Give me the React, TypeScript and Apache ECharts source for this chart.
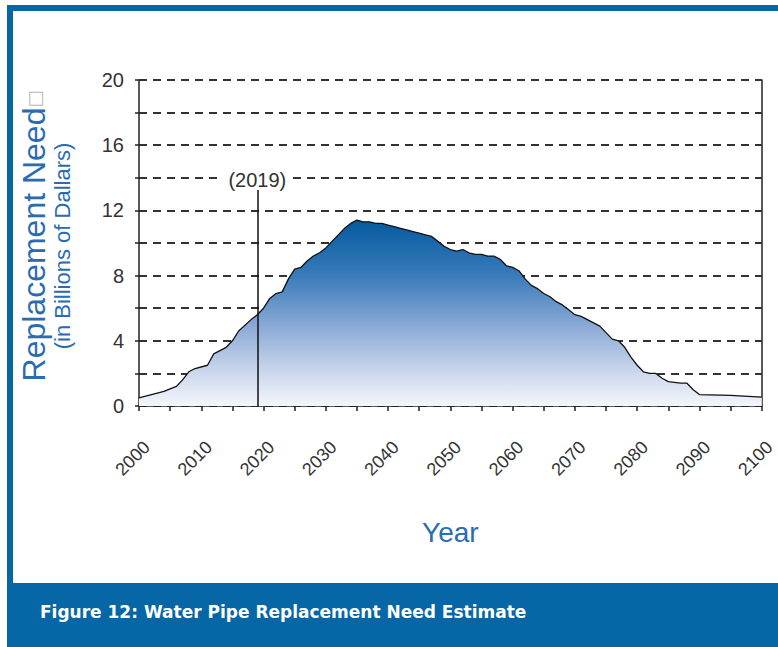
import React, { useEffect, useRef } from "react";
import * as echarts from "echarts";

// Years and replacement need (billions of dollars)
const years = [
  2000, 2002, 2004, 2006, 2007, 2008, 2009, 2011, 2012, 2014, 2015, 2016, 2018, 2019,
  2020, 2021, 2022, 2023, 2024, 2025, 2026, 2027, 2028, 2029, 2030, 2031, 2032, 2033,
  2034, 2035, 2036, 2037, 2038, 2039, 2040, 2041, 2042, 2043, 2044, 2045, 2046, 2047,
  2048, 2049, 2050, 2051, 2052, 2053, 2054, 2055, 2056, 2057, 2058, 2059, 2060, 2061,
  2062, 2063, 2064, 2065, 2066, 2067, 2068, 2069, 2070, 2071, 2072, 2073, 2074, 2075,
  2076, 2077, 2078, 2079, 2080, 2081, 2082, 2083, 2084, 2085, 2086, 2087, 2088, 2089,
  2090, 2095, 2100,
];
const needValues = [
  0.5, 0.7, 0.9, 1.2, 1.6, 2.1, 2.3, 2.5, 3.2, 3.6, 4.0, 4.6, 5.3, 5.6,
  6.0, 6.6, 6.9, 7.0, 7.8, 8.4, 8.5, 8.9, 9.2, 9.4, 9.7, 10.1, 10.5, 10.9,
  11.2, 11.4, 11.3, 11.3, 11.2, 11.2, 11.1, 11.0, 10.9, 10.8, 10.7, 10.6, 10.5, 10.4,
  10.1, 9.8, 9.6, 9.5, 9.6, 9.4, 9.3, 9.3, 9.2, 9.2, 9.0, 8.6, 8.5, 8.3,
  7.8, 7.4, 7.2, 6.9, 6.7, 6.4, 6.2, 5.9, 5.6, 5.5, 5.3, 5.1, 4.9, 4.5,
  4.1, 4.0, 3.6, 3.0, 2.5, 2.1, 2.0, 2.0, 1.7, 1.5, 1.45, 1.4, 1.4, 1.0,
  0.7, 0.65, 0.55,
];

const xLabelYears = [2000, 2010, 2020, 2030, 2040, 2050, 2060, 2070, 2080, 2090, 2100];
const yLabelValues = [0, 4, 8, 12, 16, 20];

const markerYear = 2019;
const markerTop = 13.25;
const markerLabel = "(2019)";

const yTitle = "Replacement Need";
const ySubTitle = "(in Billions of Dallars)";
const xTitle = "Year";
const caption = "Figure 12: Water Pipe Replacement Need Estimate";

const FRAME_BLUE = "#0666a6";
const TITLE_BLUE = "#2b6cb0";

export default function App() {
  const ref = useRef<HTMLDivElement>(null);

  useEffect(() => {
    if (!ref.current) return;
    const chart = echarts.init(ref.current, undefined, { renderer: "svg" });
    const option: any = {
      animation: false,
      backgroundColor: "#ffffff",
      grid: { left: 139, right: 5, top: 80, bottom: 241, containLabel: false },
      xAxis: {
        type: "value",
        min: 2000,
        max: 2100,
        interval: 5,
        name: xTitle,
        nameLocation: "middle",
        nameGap: 126,
        nameTextStyle: {
          color: TITLE_BLUE,
          fontSize: 28,
          fontFamily: "Liberation Sans",
          verticalAlign: "middle",
        },
        axisLine: { show: true, lineStyle: { color: "#222", width: 1.5 } },
        axisTick: { show: true, length: 5, lineStyle: { color: "#222", width: 1.5 } },
        axisLabel: {
          rotate: 45,
          margin: 46,
          align: "center",
          verticalAlign: "middle",
          padding: [0, 18, 0, 0],
          fontSize: 18,
          color: "#333",
          fontFamily: "Liberation Sans",
          showMinLabel: true,
          showMaxLabel: true,
          formatter: (v: number) => (xLabelYears.includes(v) ? String(v) : ""),
        },
        splitLine: { show: false },
      },
      yAxis: [
        {
          type: "value",
          min: 0,
          max: 20,
          interval: 2,
          axisLine: { show: true, lineStyle: { color: "#222", width: 1.5 } },
          axisTick: { show: true, length: 4, lineStyle: { color: "#222", width: 1.5 } },
          axisLabel: {
            margin: 15,
            fontSize: 20,
            color: "#333",
            fontFamily: "Liberation Sans",
            padding: [0, 0, 5, 0],
            formatter: (v: number) => (yLabelValues.includes(v) ? String(v) : ""),
          },
          splitLine: {
            show: true,
            lineStyle: { color: "#333333", width: 2, type: [8, 6] },
          },
        },
        {
          type: "value",
          position: "right",
          min: 0,
          max: 20,
          interval: 2,
          axisLine: { show: true, lineStyle: { color: "#222", width: 1.5 } },
          axisTick: { show: false },
          axisLabel: { show: false },
          splitLine: { show: false },
        },
      ],
      series: [
        {
          type: "line",
          yAxisIndex: 0,
          data: years.map((y, i) => [y, needValues[i]]),
          symbol: "none",
          z: 3,
          lineStyle: { color: "#111", width: 1.3 },
          areaStyle: {
            opacity: 1,
            color: new echarts.graphic.LinearGradient(0, 0, 0, 1, [
              { offset: 0, color: "#045a9e" },
              { offset: 0.3, color: "#3a7bbb" },
              { offset: 0.6, color: "#93afd8" },
              { offset: 0.85, color: "#d3ddef" },
              { offset: 1, color: "#f4f6fb" },
            ]),
          },
          markLine: {
            silent: true,
            symbol: ["none", "none"],
            lineStyle: { color: "#111", width: 1.5, type: "solid" },
            label: {
              show: true,
              position: "end",
              formatter: markerLabel,
              color: "#333",
              fontSize: 20,
              fontFamily: "Liberation Sans",
              backgroundColor: "#ffffff",
              padding: [0, 6],
              lineHeight: 19,
              distance: 1,
            },
            data: [[{ coord: [markerYear, 0] }, { coord: [markerYear, markerTop] }]],
          },
        },
      ],
      graphic: [
        { type: "rect", shape: { x: 7, y: 5, width: 771, height: 6 }, style: { fill: FRAME_BLUE }, silent: true },
        { type: "rect", shape: { x: 7, y: 5, width: 6, height: 580 }, style: { fill: FRAME_BLUE }, silent: true },
        { type: "rect", shape: { x: 7, y: 583, width: 771, height: 64 }, style: { fill: FRAME_BLUE }, silent: true },
        {
          type: "text",
          x: 40,
          y: 612,
          silent: true,
          style: {
            text: caption,
            fill: "#ffffff",
            fontSize: 17,
            fontWeight: "bold",
            fontFamily: "DejaVu Sans",
            textAlign: "left",
            textVerticalAlign: "middle",
          },
        },
        {
          type: "text",
          x: 34,
          y: 236,
          rotation: Math.PI / 2,
          silent: true,
          style: {
            text: "{a|" + yTitle + "}{b|\u25A1}",
            textAlign: "center",
            textVerticalAlign: "middle",
            rich: {
              a: { fontSize: 32, fill: TITLE_BLUE, fontFamily: "Liberation Sans" },
              b: { fontSize: 18, fill: "#b8b8b8", fontFamily: "DejaVu Sans" },
            },
          },
        },
        {
          type: "text",
          x: 62,
          y: 246,
          rotation: Math.PI / 2,
          silent: true,
          style: {
            text: ySubTitle,
            fill: TITLE_BLUE,
            fontSize: 22,
            fontFamily: "Liberation Sans",
            textAlign: "center",
            textVerticalAlign: "middle",
          },
        },
      ],
    };
    chart.setOption(option);
    return () => chart.dispose();
  }, []);

  return (
    <div
      ref={ref}
      style={{ position: "absolute", left: 0, top: 0, width: 778, height: 647 }}
    />
  );
}
